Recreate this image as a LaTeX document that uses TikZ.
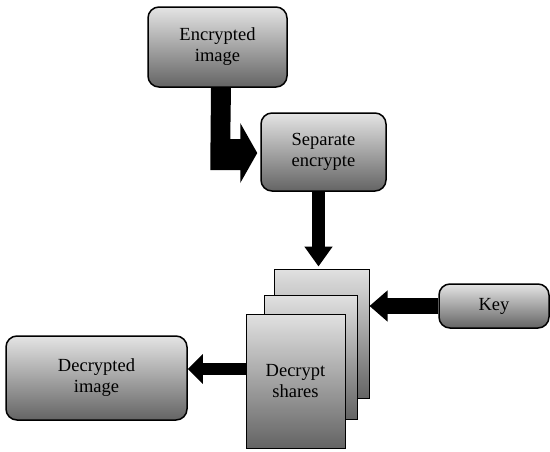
\documentclass[tikz,border=0pt]{standalone}
\usepackage{fontspec}
\newfontfamily\tnr{Liberation Serif}
\usetikzlibrary{calc,arrows.meta}
\begin{document}
\begin{tikzpicture}[x=1pt,y=-1pt,
  box/.style={draw=black,line width=1.5pt,rounded corners=11pt,
    top color={rgb,255:red,228;green,228;blue,228},
    bottom color={rgb,255:red,100;green,100;blue,100},
    align=center,inner sep=0pt,
    font=\tnr\fontsize{18.5}{21}\selectfont},
  page/.style={draw=black,line width=1pt,
    top color={rgb,255:red,225;green,225;blue,225},
    bottom color={rgb,255:red,100;green,100;blue,100},
    align=center,inner sep=0pt,
    font=\tnr\fontsize{18.5}{21}\selectfont},
  blk/.style={fill=black,draw=none},
  fat/.style={draw=black}]
\useasboundingbox (0,0) rectangle (550,451);
\node[box,minimum width=139pt,minimum height=80pt] (enc) at (217.5,47) {Encrypted\\image};
\node[box,minimum width=125pt,minimum height=78pt] (sep) at (323.5,152) {Separate\\encrypte};
\node[box,minimum width=110pt,minimum height=44pt] (key) at (494,306) {Key};
\node[box,minimum width=181pt,minimum height=84pt] (dec) at (96.5,378) {Decrypted\\image};
\node[page,minimum width=95pt,minimum height=129pt] (back) at (321.5,333.5) {};
\node[page,minimum width=93pt,minimum height=124pt] (mid) at (310.5,357) {};
\node[page,minimum width=99pt,minimum height=134pt] (front) at (295.5,381) {Decrypt\\shares};
% bent arrow from Encrypted image to Separate encrypte
\fill[blk] ($(enc.south)+(-6.5,0)$) -- ($(enc.south)+(13.5,0)$)
  -- ($(sep.west)+(-30,-13)$) -- ($(sep.west)+(-20,-13)$)
  -- ($(sep.west)+(-20,-29)$) -- ($(sep.west)+(-3,1)$)
  -- ($(sep.west)+(-20,31)$) -- ($(sep.west)+(-20,18)$)
  -- ($(sep.west)+(-50,18)$) -- cycle;
% down arrow
\draw[fat,line width=13pt,-{Triangle[length=20pt,width=27pt]}]
  ([xshift=-5pt]sep.south) -- ([xshift=-3pt,yshift=2pt]back.north);
% key arrow
\draw[fat,line width=16pt,-{Triangle[length=18pt,width=30pt]}]
  (key.west) -- (key.west -| back.east);
% output arrow
\draw[fat,line width=12pt,-{Triangle[length=15pt,width=29pt]}]
  ([yshift=12pt]front.west) -- ([yshift=12pt]front.west -| dec.east);
\end{tikzpicture}
\end{document}
